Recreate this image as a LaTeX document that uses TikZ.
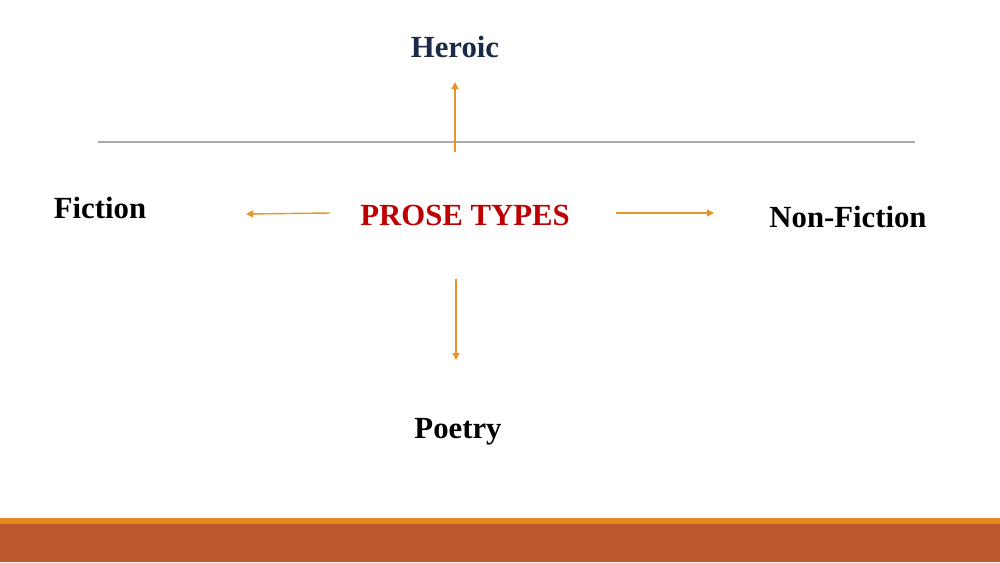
\documentclass[tikz,border=0pt]{standalone}
\usepackage{fontspec}
\setmainfont{Liberation Serif}
\usepackage{tikz}
\usetikzlibrary{arrows.meta, positioning}
\definecolor{proseRed}{HTML}{C00000}
\definecolor{heroicNavy}{HTML}{1B2A47}
\definecolor{arrowOrange}{HTML}{E8942C}
\definecolor{ruleGray}{HTML}{ABABAB}
\definecolor{stripeOrange}{HTML}{E4891E}
\definecolor{barRust}{HTML}{BD582C}

\begin{document}
\begin{tikzpicture}[
    x=0.02cm, y=-0.02cm,
    label/.style={inner sep=0pt,font=\fontsize{17.5}{20}\selectfont\bfseries},
    flow/.style={-{Triangle[length=4pt,width=4pt]},line width=0.8pt,arrowOrange}
]
    \useasboundingbox (0,0) rectangle (1000,562);

    % Rule and footer bar
    \coordinate (ruleL) at (98,142);
    \coordinate (ruleR) at (915,142);
    \draw[ruleGray,line width=0.6pt] (ruleL) -- (ruleR);
    \fill[stripeOrange] (0,518) rectangle (1000,525);
    \fill[barRust] (0,524) rectangle (1000,562);

    % Labels
    \node[label,text=proseRed] (prose) at (465,215) {PROSE TYPES};
    \node[label,text=heroicNavy] (heroic) at (455,47) {Heroic};
    \node[label] (fiction) at (100,208) {Fiction};
    \node[label] (nonfiction) at (848,217) {Non-Fiction};
    \node[label] (poetry) at (458,432) {Poetry};

    % Arrow ends
    \coordinate (upA) at (455,152);
    \coordinate (upB) at (455,82);
    \coordinate (leftA) at (330,213);
    \coordinate (leftB) at (246,214);
    \coordinate (rightA) at (616,213);
    \coordinate (rightB) at (714,213);
    \coordinate (downA) at (456,279);
    \coordinate (downB) at (456,360);

    % Arrows
    \draw[flow] (upA) -- (upB);
    \draw[flow] (leftA) -- (leftB);
    \draw[flow] (rightA) -- (rightB);
    \draw[flow] (downA) -- (downB);
\end{tikzpicture}
\end{document}
